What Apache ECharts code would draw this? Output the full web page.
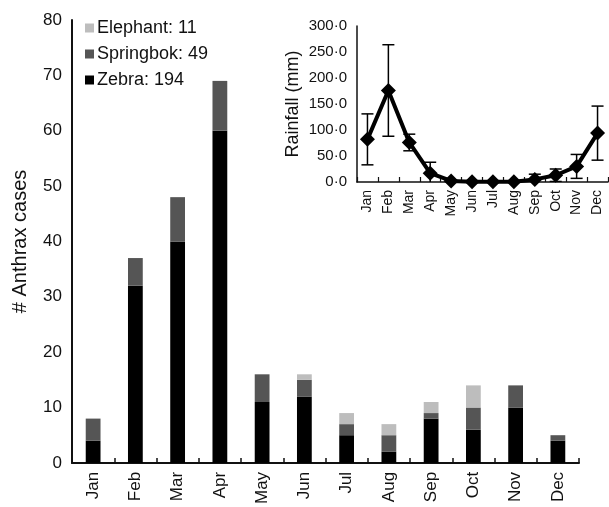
<!DOCTYPE html>
<html>
<head>
<meta charset="utf-8">
<script src="https://cdn.jsdelivr.net/npm/echarts@6/dist/echarts.min.js"></script>
<style>
  html, body { margin: 0; padding: 0; background: #fff; }
  #chart { width: 609px; height: 507px; }
</style>
</head>
<body>
<div id="chart"></div>
<script>
// Monthly anthrax cases by species (stacked bars)
const months = ['Jan', 'Feb', 'Mar', 'Apr', 'May', 'Jun', 'Jul', 'Aug', 'Sep', 'Oct', 'Nov', 'Dec'];
const zebra     = [4, 32, 40, 60, 11, 12, 5, 2, 8, 6, 10, 4];
const springbok = [4, 5, 8, 9, 5, 3, 2, 3, 1, 4, 4, 1];
const elephant  = [0, 0, 0, 0, 0, 1, 2, 2, 2, 4, 0, 0];
const casesTicks = { min: 0, max: 80, interval: 10 };

// Mean monthly rainfall (mm) with error half-widths
const rainMean = [82, 176, 76, 17, 2, 0.5, 0.3, 0.5, 5, 13, 30, 94];
const rainErr  = [49, 88, 16, 21, 2, 0, 0, 0, 10, 12, 23, 52];
const rainTicks = { min: 0, max: 300, interval: 50 };

const total = arr => arr.reduce((a, b) => a + b, 0);
const FONT = '"Liberation Sans", Arial, Helvetica, sans-serif';

const chart = echarts.init(document.getElementById('chart'));

chart.setOption({
  animation: false,
  backgroundColor: '#fff',
  textStyle: { fontFamily: FONT, color: '#111' },
  legend: {
    orient: 'vertical',
    left: 80,
    top: 14,
    itemWidth: 9,
    itemHeight: 9,
    itemGap: 8,
    icon: 'rect',
    data: ['Elephant', 'Springbok', 'Zebra'],
    formatter: name => {
      const map = { Elephant: elephant, Springbok: springbok, Zebra: zebra };
      return name + ': ' + total(map[name]);
    },
    textStyle: { fontFamily: FONT, fontSize: 18, color: '#111', padding: [0, 0, 0, -2] }
  },
  grid: [
    { left: 72, right: 30, top: 20, bottom: 40, containLabel: false },
    { left: 357, right: 1, top: 26, bottom: 325, containLabel: false }
  ],
  xAxis: [
    {
      type: 'category',
      gridIndex: 0,
      data: months,
      boundaryGap: true,
      axisLine: { lineStyle: { color: '#111', width: 2 } },
      axisTick: { show: true, inside: true, length: 5, lineStyle: { color: '#111', width: 1.5 } },
      axisLabel: { rotate: 90, fontSize: 17, color: '#111', margin: 9, fontFamily: FONT }
    },
    {
      type: 'category',
      gridIndex: 1,
      data: months,
      boundaryGap: true,
      axisLine: { lineStyle: { color: '#111', width: 1.5 } },
      axisTick: { show: true, inside: true, length: 5, lineStyle: { color: '#111', width: 1.2 } },
      axisLabel: { rotate: 90, fontSize: 14, color: '#111', margin: 8, fontFamily: FONT }
    }
  ],
  yAxis: [
    {
      type: 'value',
      gridIndex: 0,
      min: casesTicks.min, max: casesTicks.max, interval: casesTicks.interval,
      name: '# Anthrax cases',
      nameLocation: 'middle',
      nameGap: 42,
      nameTextStyle: { fontSize: 20, color: '#111', fontFamily: FONT },
      axisLine: { show: true, lineStyle: { color: '#111', width: 2 } },
      axisTick: { show: false },
      splitLine: { show: false },
      axisLabel: { fontSize: 17, color: '#111', margin: 10, fontFamily: FONT }
    },
    {
      type: 'value',
      gridIndex: 1,
      min: rainTicks.min, max: rainTicks.max, interval: rainTicks.interval,
      name: 'Rainfall (mm)',
      nameLocation: 'middle',
      nameGap: 55,
      nameTextStyle: { fontSize: 18, color: '#111', fontFamily: FONT },
      axisLine: { show: true, lineStyle: { color: '#111', width: 1.5 } },
      axisTick: { show: false },
      splitLine: { show: false },
      axisLabel: {
        fontSize: 15, color: '#111', margin: 10, fontFamily: FONT,
        formatter: v => v.toFixed(1).replace('.', '\u00B7')
      }
    }
  ],
  series: [
    {
      name: 'Zebra', type: 'bar', stack: 'cases', xAxisIndex: 0, yAxisIndex: 0,
      barWidth: '35%', data: zebra, itemStyle: { color: '#000' }
    },
    {
      name: 'Springbok', type: 'bar', stack: 'cases', xAxisIndex: 0, yAxisIndex: 0,
      barWidth: '35%', data: springbok, itemStyle: { color: '#555' }
    },
    {
      name: 'Elephant', type: 'bar', stack: 'cases', xAxisIndex: 0, yAxisIndex: 0,
      barWidth: '35%', data: elephant, itemStyle: { color: '#bdbdbd' }
    },
    {
      name: 'RainErr', type: 'custom', xAxisIndex: 1, yAxisIndex: 1,
      clip: true, z: 3,
      data: rainMean.map((m, i) => [i, m - rainErr[i], m + rainErr[i]]),
      renderItem: (params, api) => {
        if (api.value(2) === api.value(1)) return null;
        const lo = api.coord([api.value(0), api.value(1)]);
        const hi = api.coord([api.value(0), api.value(2)]);
        const hw = 6;
        const style = { stroke: '#000', lineWidth: 1.5 };
        return {
          type: 'group',
          children: [
            { type: 'line', shape: { x1: lo[0], y1: lo[1], x2: hi[0], y2: hi[1] }, style },
            { type: 'line', shape: { x1: hi[0] - hw, y1: hi[1], x2: hi[0] + hw, y2: hi[1] }, style },
            { type: 'line', shape: { x1: lo[0] - hw, y1: lo[1], x2: lo[0] + hw, y2: lo[1] }, style }
          ]
        };
      }
    },
    {
      name: 'Rainfall', type: 'line', xAxisIndex: 1, yAxisIndex: 1,
      data: rainMean, clip: false, z: 4,
      symbol: 'diamond', symbolSize: 15,
      lineStyle: { color: '#000', width: 4 },
      itemStyle: { color: '#000' }
    }
  ]
});
</script>
</body>
</html>
